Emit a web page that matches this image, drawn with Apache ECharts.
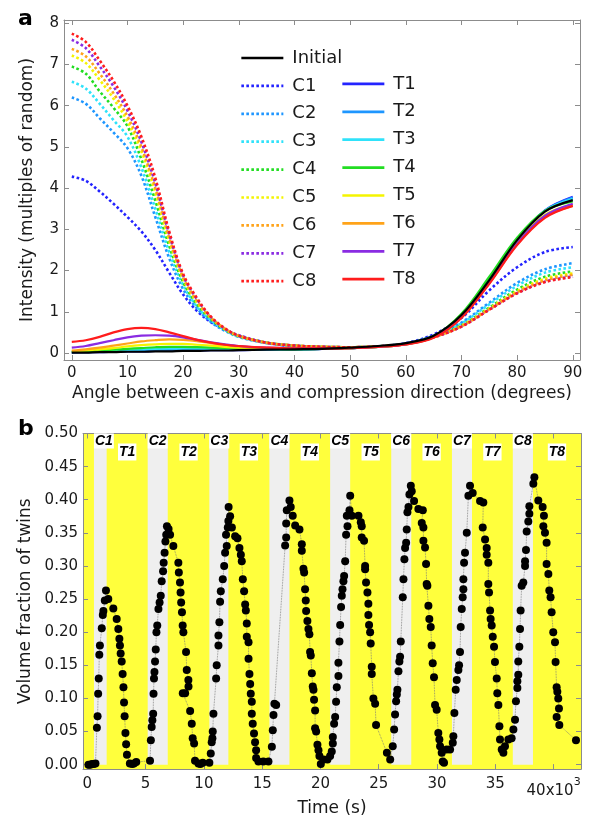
<!DOCTYPE html>
<html><head><meta charset="utf-8">
<script src="https://cdn.jsdelivr.net/npm/echarts@6/dist/echarts.min.js"></script>
<style>html,body{margin:0;padding:0;background:#fff}#c{width:592px;height:818px}</style>
</head><body><div id="c"></div><script>
// ---------- Panel a data ----------
const angles = [0,2.5,5,7.5,10,12.5,15,17.5,20,22.5,25,27.5,30,35,40,45,50,55,60,65,70,75,80,85,90];
const initialI = [0.01,0.01,0.02,0.02,0.03,0.03,0.04,0.04,0.05,0.05,0.06,0.06,0.07,0.08,0.09,0.10,0.13,0.17,0.24,0.42,0.92,1.77,2.74,3.43,3.71];
const c1 = [4.28,4.18,3.92,3.62,3.30,2.95,2.50,1.95,1.42,1.02,0.75,0.57,0.43,0.25,0.16,0.13,0.13,0.16,0.24,0.45,0.85,1.52,2.08,2.45,2.57];
const c2 = [6.20,6.05,5.70,5.35,4.97,4.30,3.30,2.30,1.55,1.08,0.75,0.54,0.39,0.24,0.17,0.14,0.14,0.16,0.23,0.42,0.74,1.22,1.70,2.03,2.18];
const c3 = [6.58,6.42,6.05,5.65,5.25,4.50,3.50,2.45,1.65,1.12,0.79,0.56,0.40,0.25,0.18,0.15,0.14,0.16,0.23,0.41,0.72,1.18,1.63,1.95,2.08];
const c4 = [6.95,6.78,6.35,5.95,5.50,4.70,3.70,2.60,1.72,1.18,0.82,0.57,0.41,0.25,0.18,0.15,0.14,0.16,0.22,0.39,0.67,1.10,1.54,1.85,1.98];
const c5 = [7.22,7.04,6.63,6.17,5.62,4.90,3.90,2.72,1.80,1.23,0.85,0.58,0.41,0.25,0.18,0.15,0.14,0.16,0.22,0.39,0.66,1.08,1.50,1.80,1.93];
const c6 = [7.38,7.20,6.78,6.30,5.74,5.00,4.00,2.80,1.84,1.26,0.86,0.59,0.42,0.25,0.18,0.15,0.14,0.16,0.22,0.38,0.65,1.06,1.47,1.76,1.90];
const c7 = [7.60,7.40,6.96,6.47,5.88,5.12,4.12,2.88,1.88,1.30,0.87,0.59,0.42,0.25,0.18,0.15,0.14,0.16,0.22,0.38,0.64,1.05,1.45,1.73,1.86];
const c8 = [7.75,7.55,7.10,6.60,6.00,5.25,4.25,2.95,1.92,1.33,0.88,0.60,0.42,0.25,0.18,0.15,0.14,0.16,0.22,0.38,0.64,1.05,1.45,1.72,1.84];
const t1 = [0.01,0.02,0.02,0.03,0.04,0.04,0.05,0.06,0.06,0.06,0.07,0.07,0.07,0.08,0.08,0.10,0.12,0.15,0.22,0.40,0.92,1.78,2.75,3.46,3.79];
const t2 = [0.02,0.02,0.03,0.04,0.05,0.06,0.07,0.08,0.08,0.08,0.08,0.08,0.08,0.08,0.09,0.10,0.12,0.15,0.22,0.40,0.92,1.78,2.75,3.45,3.77];
const t3 = [0.02,0.03,0.04,0.06,0.07,0.09,0.10,0.11,0.11,0.11,0.10,0.10,0.09,0.09,0.09,0.10,0.12,0.15,0.22,0.40,0.93,1.80,2.77,3.45,3.74];
const t4 = [0.03,0.04,0.06,0.08,0.10,0.12,0.14,0.15,0.15,0.14,0.13,0.12,0.11,0.10,0.09,0.10,0.12,0.15,0.22,0.40,0.95,1.85,2.80,3.45,3.68];
const t5 = [0.04,0.06,0.09,0.12,0.16,0.19,0.21,0.22,0.22,0.20,0.18,0.15,0.13,0.11,0.10,0.10,0.12,0.15,0.21,0.38,0.88,1.72,2.68,3.35,3.60];
const t6 = [0.06,0.09,0.13,0.18,0.23,0.28,0.31,0.33,0.32,0.29,0.24,0.20,0.16,0.12,0.10,0.10,0.12,0.15,0.21,0.38,0.86,1.69,2.64,3.30,3.57];
const t7 = [0.13,0.17,0.24,0.31,0.38,0.42,0.43,0.42,0.38,0.32,0.26,0.21,0.17,0.13,0.11,0.11,0.12,0.15,0.21,0.38,0.87,1.70,2.66,3.33,3.62];
const t8 = [0.27,0.31,0.39,0.50,0.58,0.61,0.58,0.50,0.41,0.32,0.25,0.20,0.17,0.13,0.11,0.11,0.12,0.15,0.21,0.37,0.85,1.68,2.62,3.28,3.57];
const angleTicks = [0,10,20,30,40,50,60,70,80,90];
const intensityTicks = [0,1,2,3,4,5,6,7,8];

// ---------- Panel b data ----------
const timeKs = [
 0.1,0.25,0.4,0.55,0.7,0.82,0.88,0.93,0.98,1.03,1.08,1.24,1.33,1.38,1.5,1.6,1.8,2.23,2.52,2.66,2.75,2.8,2.86,2.95,3.03,3.1,3.15,3.2,3.27,3.33,3.4,3.65,3.85,4.0,4.2,
 5.38,5.45,5.52,5.58,5.65,5.68,5.72,5.76,5.81,5.87,5.93,6.0,6.1,6.2,6.3,6.38,6.5,6.55,6.63,6.7,6.77,6.83,6.97,7.1,7.38,7.81,7.85,7.95,8.0,8.05,8.12,8.18,8.24,8.47,8.53,8.67,8.68,8.39,8.19,8.82,8.96,9.04,9.16,9.24,9.53,9.7,9.9,
 10.47,10.59,10.67,10.73,10.76,10.82,11.05,11.1,11.25,11.25,11.33,11.39,11.45,11.62,11.74,11.82,11.96,11.9,12.05,12.1,12.12,12.25,12.4,12.68,12.88,13.05,13.17,13.25,13.34,13.45,13.54,13.6,13.68,13.68,13.83,13.83,13.91,13.97,14.02,14.11,14.11,14.19,14.3,14.39,14.48,14.48,14.68,15.1,
 15.54,15.83,15.91,15.97,16.05,16.2,16.97,17.06,17.06,17.11,17.34,17.45,17.62,17.83,18.2,18.4,18.4,18.54,18.6,18.68,18.74,18.77,18.88,18.97,19.05,19.11,19.17,19.26,19.34,19.4,19.45,19.54,19.54,19.63,19.74,19.83,19.91,20.03,20.26,20.6,20.83,
 20.97,21.06,21.06,21.17,21.26,21.34,21.4,21.54,21.54,21.63,21.69,21.77,21.83,21.89,21.97,22.03,22.12,22.2,22.32,22.26,22.49,22.55,22.69,23.26,23.46,23.54,23.54,23.74,23.83,23.83,23.91,24.03,24.11,24.11,24.17,24.26,24.31,24.4,24.4,24.54,24.69,24.77,25.7,25.98,
 26.2,26.32,26.4,26.49,26.55,26.6,26.69,26.77,26.83,26.89,27.06,27.12,27.2,27.26,27.35,27.4,27.46,27.55,27.63,27.75,27.83,28.03,28.4,28.78,28.69,28.83,28.83,28.97,29.06,29.11,29.17,29.26,29.34,29.46,29.54,29.63,29.74,29.83,29.97,30.11,30.2,30.26,30.4,30.49,30.6,30.83,31.12,31.35,
 31.4,31.49,31.6,31.69,31.83,31.89,31.97,32.03,32.12,32.2,32.26,32.26,32.32,32.4,32.55,32.69,32.83,33.06,33.69,33.97,33.92,34.12,34.26,34.26,34.4,34.4,34.46,34.55,34.6,34.69,34.78,34.89,34.97,35.12,35.17,35.26,35.35,35.4,35.55,35.69,35.83,36.12,36.4,
 36.55,36.69,36.77,36.89,36.89,36.97,36.97,37.06,37.12,37.17,37.26,37.4,37.55,37.55,37.63,37.69,37.83,37.92,37.92,38.26,38.35,38.69,39.06,39.17,39.12,39.26,39.4,39.4,39.55,39.63,39.74,39.83,39.97,40.12,40.17,40.26,40.32,40.4,40.46,40.26,40.49,41.92
];
const twinFrac = [
 0,0,0.001,0.001,0.002,0.056,0.073,0.107,0.13,0.166,0.18,0.206,0.226,0.232,0.248,0.263,0.25,0.236,0.22,0.205,0.19,0.18,0.168,0.156,0.137,0.117,0.094,0.073,0.048,0.031,0.015,0.002,0.001,0.002,0.004,
 0.006,0.037,0.057,0.067,0.077,0.107,0.13,0.14,0.156,0.174,0.2,0.21,0.235,0.245,0.255,0.277,0.292,0.305,0.32,0.337,0.347,0.36,0.356,0.347,0.33,0.305,0.29,0.275,0.26,0.245,0.23,0.21,0.2,0.17,0.143,0.128,0.118,0.108,0.108,0.081,0.062,0.04,0.032,0.006,0.002,0.001,0.003,
 0.003,0.017,0.034,0.04,0.05,0.077,0.13,0.15,0.18,0.195,0.215,0.246,0.262,0.28,0.3,0.32,0.33,0.347,0.358,0.368,0.389,0.375,0.358,0.345,0.342,0.327,0.317,0.307,0.28,0.262,0.242,0.233,0.213,0.193,0.185,0.16,0.137,0.122,0.107,0.095,0.077,0.062,0.047,0.034,0.022,0.01,0.005,0.005,
 0.005,0.027,0.052,0.075,0.092,0.09,0.331,0.343,0.364,0.384,0.399,0.389,0.376,0.361,0.355,0.333,0.323,0.296,0.29,0.265,0.248,0.232,0.217,0.205,0.197,0.17,0.165,0.138,0.118,0.113,0.098,0.082,0.055,0.05,0.03,0.022,0.013,0.001,0.008,0.008,0.013,
 0.02,0.032,0.042,0.062,0.072,0.095,0.117,0.134,0.154,0.186,0.211,0.238,0.255,0.265,0.277,0.285,0.307,0.347,0.36,0.376,0.384,0.406,0.376,0.376,0.366,0.36,0.343,0.338,0.3,0.295,0.275,0.26,0.243,0.226,0.211,0.2,0.183,0.148,0.137,0.1,0.092,0.06,0.018,0.008,
 0.028,0.053,0.076,0.096,0.106,0.113,0.141,0.156,0.163,0.186,0.253,0.28,0.31,0.327,0.335,0.355,0.381,0.389,0.408,0.421,0.413,0.398,0.386,0.384,0.365,0.358,0.338,0.328,0.303,0.273,0.27,0.24,0.22,0.208,0.18,0.153,0.132,0.09,0.083,0.048,0.038,0.028,0.018,0.005,0.003,0.023,0.023,0.033,
 0.043,0.078,0.113,0.128,0.143,0.15,0.17,0.208,0.235,0.253,0.265,0.28,0.305,0.32,0.35,0.406,0.421,0.41,0.398,0.396,0.358,0.34,0.327,0.317,0.305,0.273,0.26,0.233,0.22,0.21,0.193,0.178,0.155,0.13,0.108,0.09,0.058,0.038,0.023,0.018,0.028,0.038,0.04,
 0.053,0.068,0.096,0.116,0.126,0.136,0.156,0.178,0.205,0.233,0.27,0.275,0.3,0.307,0.324,0.352,0.367,0.379,0.39,0.424,0.434,0.399,0.389,0.376,0.36,0.35,0.335,0.303,0.288,0.263,0.253,0.23,0.2,0.185,0.155,0.117,0.11,0.1,0.085,0.072,0.06,0.037
];
const compStart = [0.57,5.18,10.47,15.62,20.83,26.07,31.28,36.5];
const compEnd   = [1.66,6.90,12.10,17.34,22.55,27.79,33.00,38.23];
const compLabels = ['C1','C2','C3','C4','C5','C6','C7','C8'];
const tensLabels = ['T1','T2','T3','T4','T5','T6','T7','T8'];
const timeTicks = [0,5,10,15,20,25,30,35,40];
const fracTicks = [0,0.05,0.1,0.15,0.2,0.25,0.3,0.35,0.4,0.45,0.5];

// ---------- chart ----------
const FONT = 'DejaVu Sans';
const axisGray = '#8c8c8c';
const txt = '#1a1a1a';
const colors = ['#2323ff','#1e96ff','#2fe2fa','#22dd22','#f4f400','#ffa319','#8a2be2','#ff1c1c'];
const cData = [c1,c2,c3,c4,c5,c6,c7,c8];
const tData = [t1,t2,t3,t4,t5,t6,t7,t8];
const xMinA = -1.4, xMaxA = 91.3, yMinA = -0.17, yMaxA = 8.08;
const xMinB = -0.37, xMaxB = 42.35, yMinB = -0.0066, yMaxB = 0.5;

function lineSeries(name, vals, color, dotted, z) {
  return {
    type: 'line', name, xAxisIndex: 0, yAxisIndex: 0,
    data: angles.map((a, i) => [a, vals[i]]),
    smooth: 0.35, symbol: 'none', showSymbol: false,
    lineStyle: { color, width: dotted ? 2.6 : 2.2, type: dotted ? [2.6, 2.4] : 'solid' },
    itemStyle: { color }, z, silent: true
  };
}
const series = [];
cData.forEach((d, i) => series.push(lineSeries(compLabels[i], d, colors[i], true, 2)));
tData.forEach((d, i) => series.push(lineSeries(tensLabels[i], d, colors[i], false, 3)));
series.push(lineSeries('Initial', initialI, '#000000', false, 4));

const labelBase = { color: '#000', fontFamily: 'Liberation Sans', fontStyle: 'italic', fontWeight: 'bold', fontSize: 14, backgroundColor: '#ffffff' };
series.push({
  type: 'line', xAxisIndex: 2, yAxisIndex: 2, data: [], silent: true, z: 1,
  markArea: {
    silent: true,
    itemStyle: { color: '#efefef' },
    label: Object.assign({ show: true, position: 'insideTopLeft', distance: 0, padding: [1, 1, 0, 1] }, labelBase),
    data: compStart.map((s, i) => [{ name: compLabels[i], xAxis: s, yAxis: 0 }, { xAxis: compEnd[i], yAxis: yMaxB }])
  }
});
series.push({
  type: 'line', xAxisIndex: 2, yAxisIndex: 2, data: [], silent: true, z: 1,
  markArea: {
    silent: true,
    itemStyle: { color: 'rgba(0,0,0,0)' },
    label: Object.assign({ show: true, position: 'insideTop', distance: 10, padding: [2, 1, 1, 1] }, labelBase),
    data: compEnd.map((e, i) => [{ name: tensLabels[i], xAxis: e, yAxis: 0 }, { xAxis: i < 7 ? compStart[i + 1] : xMaxB, yAxis: yMaxB }])
  }
});
series.push({
  type: 'line', xAxisIndex: 2, yAxisIndex: 2, z: 5, silent: true,
  data: timeKs.map((t, i) => [t, twinFrac[i]]),
  symbol: 'circle', symbolSize: 8, showSymbol: true,
  itemStyle: { color: '#000' },
  lineStyle: { color: '#777', width: 0.8, type: 'dotted' }
});

const tickStyle = (vals) => ({ show: true, inside: true, length: 5, customValues: vals, lineStyle: { color: axisGray } });
const lineStyleAx = { show: true, onZero: false, lineStyle: { color: axisGray, width: 1 } };

const legendCommon = {
  orient: 'vertical', padding: 0, itemWidth: 42, itemHeight: 16, itemGap: 9.9, selectedMode: false,
  lineStyle: { width: 2.7 }, itemStyle: { opacity: 0, borderWidth: 0 },
  textStyle: { fontSize: 18, fontFamily: FONT, color: txt, lineHeight: 16, padding: [0, 0, 0, 4] }
};

const option = {
  animation: false,
  backgroundColor: '#ffffff',
  textStyle: { fontFamily: FONT },
  grid: [
    { left: 64, right: 12, top: 20, bottom: 458, show: false },
    { left: 83, right: 11, top: 433.5, bottom: 46.3, show: true, backgroundColor: '#ffff3c', borderWidth: 0 }
  ],
  xAxis: [
    { type: 'value', gridIndex: 0, min: xMinA, max: xMaxA, position: 'bottom',
      axisLine: lineStyleAx, axisTick: tickStyle(angleTicks), splitLine: { show: false },
      axisLabel: { customValues: angleTicks, fontSize: 15, margin: 6, color: txt, fontFamily: FONT },
      name: 'Angle between c-axis and compression direction (degrees)', nameLocation: 'middle', nameGap: 25,
      nameTextStyle: { fontSize: 17, color: txt, fontFamily: FONT } },
    { type: 'value', gridIndex: 0, min: xMinA, max: xMaxA, position: 'top',
      axisLine: lineStyleAx, axisTick: tickStyle(angleTicks), splitLine: { show: false }, axisLabel: { show: false } },
    { type: 'value', gridIndex: 1, min: xMinB, max: xMaxB, position: 'bottom',
      axisLine: lineStyleAx, axisTick: tickStyle(timeTicks), splitLine: { show: false },
      axisLabel: { customValues: timeTicks, fontSize: 15, margin: 8, color: txt, fontFamily: FONT,
        formatter: v => v === 40 ? '{a|40x10}{s|3}' : String(v),
        rich: { a: { fontSize: 15, fontFamily: FONT, color: txt, padding: [7, 0, 0, 0] },
                s: { fontSize: 11, fontFamily: FONT, color: txt, verticalAlign: 'top' } } },
      name: 'Time (s)', nameLocation: 'middle', nameGap: 25,
      nameTextStyle: { fontSize: 17, color: txt, fontFamily: FONT } },
    { type: 'value', gridIndex: 1, min: xMinB, max: xMaxB, position: 'top',
      axisLine: lineStyleAx, axisTick: tickStyle(timeTicks), splitLine: { show: false }, axisLabel: { show: false } }
  ],
  yAxis: [
    { type: 'value', gridIndex: 0, min: yMinA, max: yMaxA, position: 'left',
      axisLine: lineStyleAx, axisTick: tickStyle(intensityTicks), splitLine: { show: false },
      axisLabel: { customValues: intensityTicks, fontSize: 15, margin: 5, color: txt, fontFamily: FONT },
      name: 'Intensity (multiples of random)', nameLocation: 'middle', nameGap: 28, nameRotate: 90,
      nameTextStyle: { fontSize: 17, color: txt, fontFamily: FONT } },
    { type: 'value', gridIndex: 0, min: yMinA, max: yMaxA, position: 'right',
      axisLine: lineStyleAx, axisTick: tickStyle(intensityTicks), splitLine: { show: false }, axisLabel: { show: false } },
    { type: 'value', gridIndex: 1, min: yMinB, max: yMaxB, position: 'left',
      axisLine: lineStyleAx, axisTick: tickStyle(fracTicks), splitLine: { show: false },
      axisLabel: { customValues: fracTicks, fontSize: 15, margin: 5, color: txt, fontFamily: FONT, formatter: v => v.toFixed(2) },
      name: 'Volume fraction of twins', nameLocation: 'middle', nameGap: 47, nameRotate: 90,
      nameTextStyle: { fontSize: 17, color: txt, fontFamily: FONT } },
    { type: 'value', gridIndex: 1, min: yMinB, max: yMaxB, position: 'right',
      axisLine: lineStyleAx, axisTick: tickStyle(fracTicks), splitLine: { show: false }, axisLabel: { show: false } }
  ],
  legend: [
    Object.assign({ data: ['Initial'].concat(compLabels), left: 240, top: 49 }, legendCommon),
    Object.assign({ data: tensLabels, left: 341, top: 74.9 }, legendCommon)
  ],
  graphic: [
    { type: 'text', left: 18, top: 8, style: { text: 'a', font: 'bold 22px "DejaVu Sans"', fill: '#000' } },
    { type: 'text', left: 18, top: 418, style: { text: 'b', font: 'bold 22px "DejaVu Sans"', fill: '#000' } }
  ],
  series
};
const chart = echarts.init(document.getElementById('c'), null, { renderer: 'canvas', width: 592, height: 818 });
chart.setOption(option);
</script></body></html>
